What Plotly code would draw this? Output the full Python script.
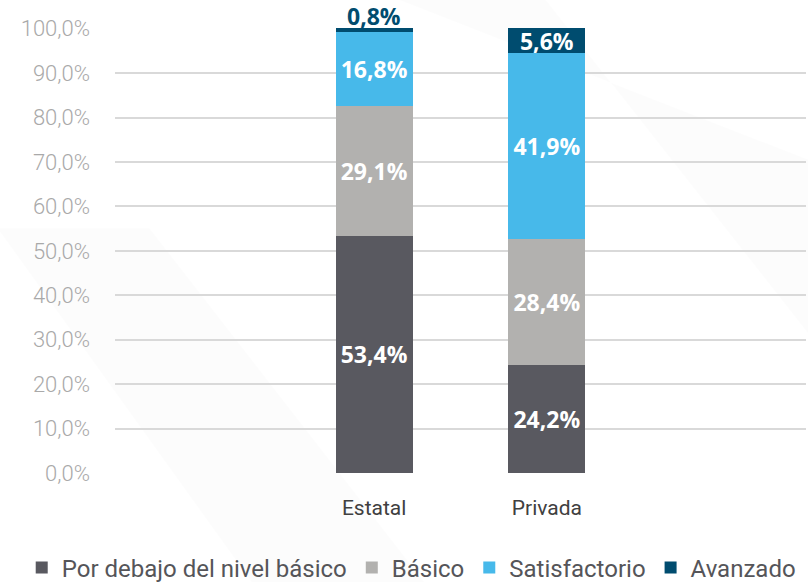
import plotly.graph_objects as go

categories = ["Estatal", "Privada"]
series_names = ["Por debajo del nivel básico", "Básico", "Satisfactorio", "Avanzado"]
por_debajo = [53.4, 24.2]
basico = [29.1, 28.4]
satisfactorio = [16.8, 41.9]
avanzado = [0.8, 5.6]
y_ticks = [0, 10, 20, 30, 40, 50, 60, 70, 80, 90, 100]

colors = ["#595960", "#b2b1af", "#47b9ea", "#004c6f"]
values = [por_debajo, basico, satisfactorio, avanzado]
SMALL = 2.0  # segments thinner than this get their label above the bar


def fmt(v):
    return f"{v:.1f}%".replace(".", ",")


label_font = dict(family="Open Sans", size=23, weight="bold")

fig = go.Figure()
for name, vals, col in zip(series_names, values, colors):
    texts = [fmt(v) if v >= SMALL else "" for v in vals]
    fig.add_trace(go.Bar(
        x=categories, y=vals, name=name, marker=dict(color=col, line=dict(width=0)),
        text=texts, textposition="inside",
        insidetextanchor="middle", constraintext="none",
        textfont=dict(color="white", **label_font),
        width=0.445, cliponaxis=False, hoverinfo="skip",
    ))

# labels for segments too thin to hold text: placed just above the stack top
annotations = []
totals = [sum(v[i] for v in values) for i in range(len(categories))]
for name, vals, col in zip(series_names, values, colors):
    for i, v in enumerate(vals):
        if v < SMALL:
            annotations.append(dict(
                x=categories[i], y=totals[i], xref="x", yref="y",
                text=fmt(v), showarrow=False, yanchor="bottom", yshift=-6,
                font=dict(color=col, **label_font),
            ))

# very faint background watermark shapes
shapes = [
    dict(type="path", xref="paper", yref="paper",
         path="M -0.17 0.55 L 0.05 0.55 L 0.45 -0.25 L 0.2 -0.25 Z",
         fillcolor="rgba(0,0,0,0.012)", line=dict(width=0), layer="below"),
    dict(type="path", xref="paper", yref="paper",
         path="M 0.4 1.07 L 0.62 1.07 L 1.01 0.3 L 1.01 0.7 Z",
         fillcolor="rgba(0,0,0,0.012)", line=dict(width=0), layer="below"),
]

fig.update_layout(
    template="none",
    barmode="stack",
    width=808, height=582,
    margin=dict(l=115, r=2, t=28, b=109, autoexpand=False),
    paper_bgcolor="white", plot_bgcolor="rgba(0,0,0,0)",
    showlegend=True,
    shapes=shapes,
    annotations=annotations,
    legend=dict(orientation="h", xref="paper", yref="paper",
                x=-0.135, xanchor="left", y=-0.213, yanchor="middle",
                font=dict(family="Roboto", size=24, color="#555559"),
                itemwidth=30, traceorder="normal", itemclick=False,
                bgcolor="rgba(0,0,0,0)"),
    xaxis=dict(range=[-1.5, 2.5], showgrid=False, showline=False, zeroline=False,
               automargin=False,
               tickfont=dict(family="Roboto", size=21, color="#404040"),
               ticks="", ticklabelstandoff=20),
    yaxis=dict(range=[0, 100.15], tickvals=y_ticks,
               ticktext=[f"{t:.1f}%".replace(".", ",") for t in y_ticks],
               showgrid=True, gridcolor="#d9d9d9", gridwidth=1.6,
               zeroline=False, showline=False, automargin=False,
               tickfont=dict(family="Roboto", size=22, color="#a9a9a9", weight=300),
               ticks="", ticklabelstandoff=24),
)

fig.write_html("out.html", config={"displayModeBar": False},
               post_script="document.body.style.margin='0';document.body.style.padding='0';")
